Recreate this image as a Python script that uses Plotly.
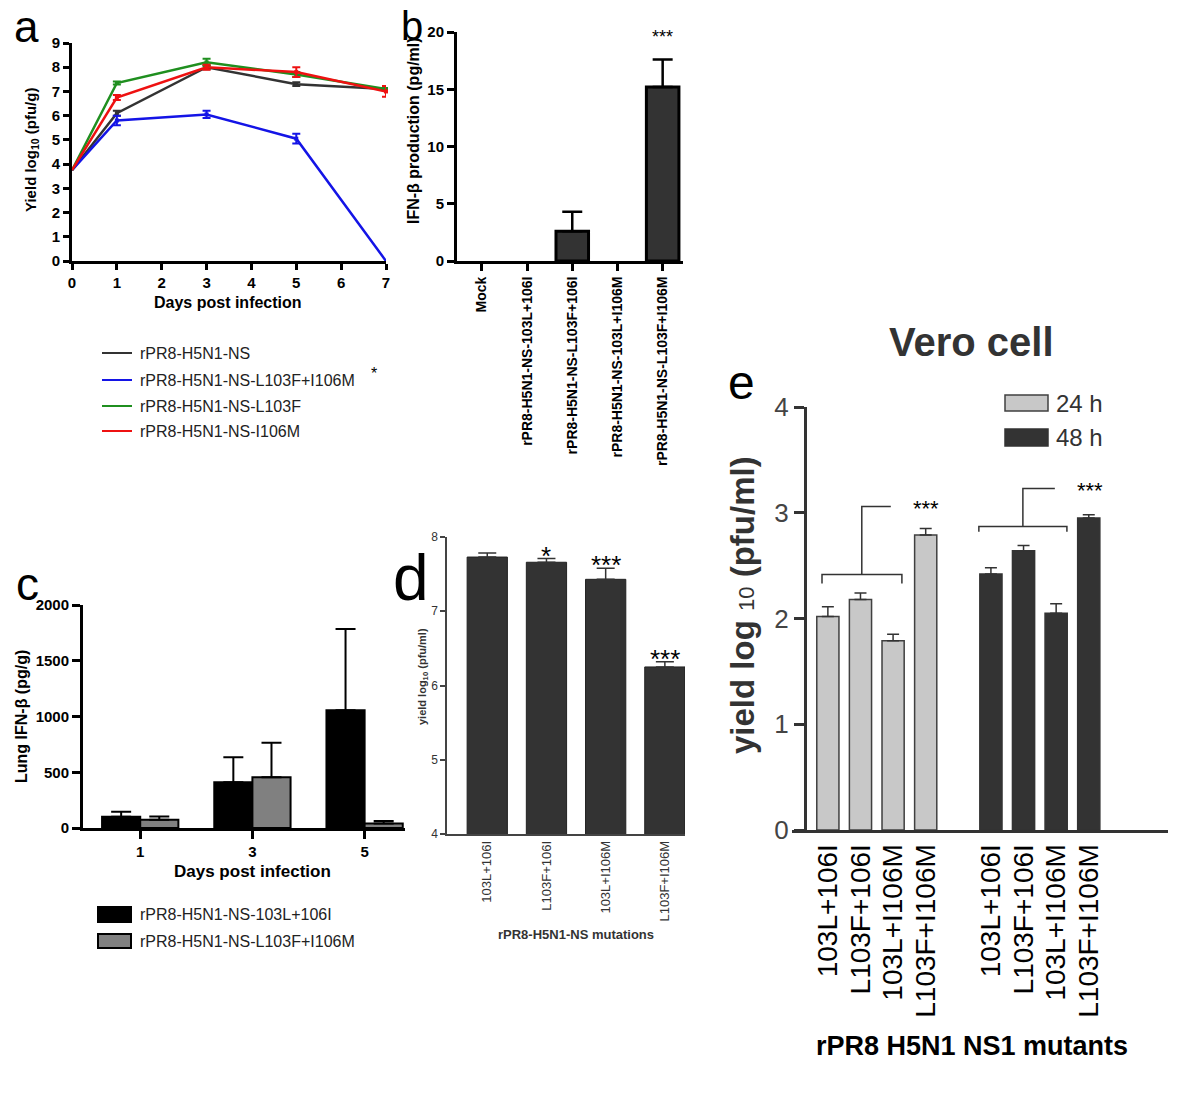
import plotly.graph_objects as go

W, H = 1200, 1100
def PX(p):
    return p / W
def PY(p):
    return 1 - p / H

FONT = "Liberation Sans, Arial, sans-serif"

# ---------------- Panel a data ----------------
a_days = [0, 1, 3, 5, 7]
a_names = ["rPR8-H5N1-NS", "rPR8-H5N1-NS-L103F+I106M", "rPR8-H5N1-NS-L103F", "rPR8-H5N1-NS-I106M"]
a_ns = [3.75, 6.1, 8.0, 7.3, 7.1]
a_ns_err = [0, 0.1, 0.08, 0.08, 0.08]
a_l103f_i106m = [3.75, 5.8, 6.05, 5.05, 0.0]
a_l103f_i106m_err = [0, 0.2, 0.15, 0.2, 0]
a_l103f = [3.75, 7.35, 8.2, 7.7, 7.1]
a_l103f_err = [0, 0.06, 0.15, 0.1, 0.08]
a_i106m = [3.75, 6.75, 8.0, 7.8, 7.0]
a_i106m_err = [0, 0.1, 0.1, 0.2, 0.22]
a_colors = ["#333333", "#1414e6", "#1f8f1f", "#ee1111"]

# ---------------- Panel b data ----------------
b_cats = ["Mock", "rPR8-H5N1-NS-103L+106I", "rPR8-H5N1-NS-L103F+106I",
          "rPR8-H5N1-NS-103L+I106M", "rPR8-H5N1-NS-L103F+I106M"]
b_vals = [0, 0, 2.6, 0, 15.2]
b_err = [0, 0, 1.7, 0, 2.4]

# ---------------- Panel c data ----------------
c_days = ["1", "3", "5"]
c_names = ["rPR8-H5N1-NS-103L+106I", "rPR8-H5N1-NS-L103F+I106M"]
c_103l_106i = [100, 410, 1055]
c_103l_106i_err = [45, 225, 730]
c_l103f_i106m = [75, 455, 40]
c_l103f_i106m_err = [28, 310, 23]

# ---------------- Panel d data ----------------
d_cats = ["103L+106I", "L103F+106I", "103L+I106M", "L103F+I106M"]
d_vals = [7.73, 7.66, 7.43, 6.25]
d_err = [0.055, 0.05, 0.15, 0.07]
d_stars = ["", "*", "***", "***"]

# ---------------- Panel e data ----------------
e_cats = ["103L+106I", "L103F+106I", "103L+I106M", "L103F+I106M"]
e_24h = [2.02, 2.18, 1.79, 2.79]
e_24h_err = [0.09, 0.06, 0.06, 0.06]
e_48h = [2.42, 2.64, 2.05, 2.95]
e_48h_err = [0.06, 0.05, 0.09, 0.03]

fig = go.Figure()

# ---- panel a traces ----
a_series = [(a_ns, a_ns_err), (a_l103f_i106m, a_l103f_i106m_err), (a_l103f, a_l103f_err), (a_i106m, a_i106m_err)]
for (vals, errs), name, col in zip(a_series, a_names, a_colors):
    fig.add_trace(go.Scatter(x=a_days, y=vals, mode="lines", name=name,
                             line=dict(color=col, width=2.5), cliponaxis=False,
                             showlegend=False, xaxis="x", yaxis="y"))
    idx = [i for i, e in enumerate(errs) if e > 0]
    fig.add_trace(go.Scatter(x=[a_days[i] for i in idx], y=[vals[i] for i in idx], mode="markers",
                             marker=dict(color=col, size=4, symbol="square"),
                             error_y=dict(type="data", array=[errs[i] for i in idx], color=col,
                                          thickness=2, width=4),
                             cliponaxis=False, showlegend=False, xaxis="x", yaxis="y"))

# ---- panel b ----
fig.add_trace(go.Bar(x=b_cats, y=[v if v > 0 else None for v in b_vals], width=0.72,
                     marker=dict(color="#333333", line=dict(color="#000000", width=3)),
                     error_y=dict(type="data", symmetric=False, array=b_err,
                                  arrayminus=[0] * len(b_err), color="#000000", thickness=2.5, width=10),
                     showlegend=False, xaxis="x2", yaxis="y2"))

# ---- panel c ----
fig.add_trace(go.Bar(x=c_days, y=c_103l_106i, width=0.34, offset=-0.34, name=c_names[0],
                     marker=dict(color="#000000", line=dict(color="#000000", width=2)),
                     error_y=dict(type="data", symmetric=False, array=c_103l_106i_err,
                                  arrayminus=[0] * 3, color="#000000", thickness=2, width=10),
                     showlegend=False, xaxis="x3", yaxis="y3"))
fig.add_trace(go.Bar(x=c_days, y=c_l103f_i106m, width=0.34, offset=0, name=c_names[1],
                     marker=dict(color="#808080", line=dict(color="#000000", width=2)),
                     error_y=dict(type="data", symmetric=False, array=c_l103f_i106m_err,
                                  arrayminus=[0] * 3, color="#000000", thickness=2, width=10),
                     showlegend=False, xaxis="x3", yaxis="y3"))

# ---- panel d ----
fig.add_trace(go.Bar(x=d_cats, y=d_vals, width=0.68,
                     marker=dict(color="#333333", line=dict(color="#222222", width=1)),
                     error_y=dict(type="data", symmetric=False, array=d_err,
                                  arrayminus=[0] * len(d_err), color="#333333", thickness=1.5, width=9),
                     showlegend=False, xaxis="x4", yaxis="y4"))

# ---- panel e ----
n_e = len(e_cats)
e_pos_24 = list(range(n_e))
e_pos_48 = [i + n_e + 1 for i in range(n_e)]
fig.add_trace(go.Bar(x=e_pos_24, y=e_24h, width=0.68, name="24 h",
                     marker=dict(color="#c8c8c8", line=dict(color="#404040", width=1.5)),
                     error_y=dict(type="data", symmetric=False, array=e_24h_err,
                                  arrayminus=[0] * n_e, color="#333333", thickness=1.5, width=6),
                     showlegend=False, xaxis="x5", yaxis="y5"))
fig.add_trace(go.Bar(x=e_pos_48, y=e_48h, width=0.68, name="48 h",
                     marker=dict(color="#333333", line=dict(color="#333333", width=1.5)),
                     error_y=dict(type="data", symmetric=False, array=e_48h_err,
                                  arrayminus=[0] * n_e, color="#333333", thickness=1.5, width=6),
                     showlegend=False, xaxis="x5", yaxis="y5"))

bold = dict(family=FONT, weight="bold", color="#000000")

def ax(**kw):
    base = dict(showgrid=False, zeroline=False, showline=True, fixedrange=True, automargin=False)
    base.update(kw)
    return base

fig.update_layout(
    width=W, height=H, margin=dict(l=0, r=0, t=0, b=0, pad=0, autoexpand=False),
    paper_bgcolor="white", plot_bgcolor="rgba(0,0,0,0)", showlegend=False,
    barmode="overlay", font=dict(family=FONT, color="#000000"),
    # a
    xaxis=ax(domain=[PX(72), PX(386)], range=[0, 7], dtick=1, anchor="y",
             linecolor="#000", linewidth=3, ticks="outside", ticklen=6, tickwidth=2.5,
             tickcolor="#000", tickfont=dict(bold, size=15)),
    yaxis=ax(domain=[PY(261), PY(43)], range=[0, 9], dtick=1, anchor="x",
             linecolor="#000", linewidth=3, ticks="outside", ticklen=6, tickwidth=2.5,
             tickcolor="#000", tickfont=dict(bold, size=15)),
    # b
    xaxis2=ax(domain=[PX(457), PX(683)], type="category", range=[-0.55, 4.45], anchor="y2",
              linecolor="#000", linewidth=3, ticks="outside", ticklen=7, tickwidth=3,
              tickcolor="#000", tickangle=-90, tickfont=dict(bold, size=14)),
    yaxis2=ax(domain=[PY(261), PY(32)], range=[0, 20], tickvals=[0, 5, 10, 15, 20], anchor="x2",
              linecolor="#000", linewidth=3, ticks="outside", ticklen=7, tickwidth=3,
              tickcolor="#000", tickfont=dict(bold, size=15)),
    # c
    xaxis3=ax(domain=[PX(83), PX(405)], type="category", range=[-0.51, 2.36], anchor="y3",
              linecolor="#000", linewidth=3, ticks="outside", ticklen=8, tickwidth=3,
              tickcolor="#000", tickfont=dict(bold, size=15)),
    yaxis3=ax(domain=[PY(828), PY(605)], range=[0, 2000], dtick=500, anchor="x3",
              linecolor="#000", linewidth=3, ticks="outside", ticklen=8, tickwidth=3,
              tickcolor="#000", tickfont=dict(bold, size=15)),
    # d
    xaxis4=ax(domain=[PX(447), PX(685)], type="category", range=[-0.68, 3.34], anchor="y4",
              linecolor="#444", linewidth=1.5, ticks="", tickangle=-90,
              tickfont=dict(family=FONT, size=13, color="#333")),
    yaxis4=ax(domain=[PY(834), PY(537)], range=[4, 8], dtick=1, anchor="x4",
              linecolor="#444", linewidth=1.5, ticks="outside", ticklen=5, tickwidth=1.5,
              tickcolor="#444", tickfont=dict(family=FONT, size=12, color="#333")),
    # e
    xaxis5=ax(domain=[PX(792), PX(1168)], range=[-1.1, 10.43], anchor="y5",
              tickvals=e_pos_24 + e_pos_48, ticktext=e_cats + e_cats,
              linecolor="#333", linewidth=3, ticks="", tickangle=-90,
              tickfont=dict(family=FONT, size=28, color="#000")),
    yaxis5=ax(domain=[PY(830), PY(407)], range=[0, 4], dtick=1, anchor="free", position=PX(805),
              linecolor="#333", linewidth=3, ticks="outside", ticklen=10, tickwidth=3,
              tickcolor="#333", tickfont=dict(family=FONT, size=26, color="#444")),
)

ann = []
def A(text, x, y, size, xref="paper", yref="paper", angle=0, xanchor="center", yanchor="middle",
      weight="normal", color="#000000"):
    ann.append(dict(text=text, x=x, y=y, xref=xref, yref=yref, textangle=angle, showarrow=False,
                    xanchor=xanchor, yanchor=yanchor,
                    font=dict(family=FONT, size=size, weight=weight, color=color)))

# panel labels
A("a", PX(26), PY(27), 44)
A("b", PX(412), PY(26), 40)
A("c", PX(27), PY(584), 46)
A("d", PX(411), PY(578), 64)
A("e", PX(741), PY(382), 48)

# axis titles
A("Yield log<sub>10</sub> (pfu/g)", PX(31), PY(150), 15, angle=-90, weight="bold")
A("Days post infection", PX(228), PY(302), 16, weight="bold")
A("IFN-β production (pg/ml)", PX(414), PY(130), 16, angle=-90, weight="bold")
A("Lung IFN-β (pg/g)", PX(21), PY(717), 16, angle=-90, weight="bold")
A("Days post infection", PX(252), PY(871), 17, weight="bold")
A("yield log<sub>10</sub> (pfu/ml)", PX(423), PY(677), 11, angle=-90, weight="bold", color="#333")
A("rPR8-H5N1-NS mutations", PX(576), PY(934), 13, weight="bold", color="#333")
A("<b>yield log </b><span style='font-size:22px'>10</span><b> (pfu/ml)</b>", PX(742), PY(605), 33,
  angle=-90, color="#333")
A("rPR8 H5N1 NS1 mutants", PX(972), PY(1046), 27, weight="bold")
A("Vero cell", PX(971), PY(342), 40, weight="bold", color="#333")

# significance stars
A("***", b_cats[4], PY(37), 18, xref="x2", yref="paper")
for cat, v, e, s in zip(d_cats, d_vals, d_err, d_stars):
    if s:
        A(s, cat, v + e + 0.04, 26, xref="x4", yref="y4")
A("***", 3.0, 3.04, 22, xref="x5", yref="y5")
A("***", 8.04, 3.21, 22, xref="x5", yref="y5")

shapes = []
# legend a
a_rows = [353, 380, 406, 431]
for name, col, r in zip(a_names, a_colors, a_rows):
    shapes.append(dict(type="line", xref="paper", yref="paper", x0=PX(102), x1=PX(132),
                       y0=PY(r), y1=PY(r), line=dict(color=col, width=2)))
    A(name, PX(138), PY(r), 16, xanchor="left", color="#222")
A("*", PX(374), PY(373), 16)

# legend c
c_rows = [(907, 922, "#000000"), (934, 948, "#808080")]
for (t, b, col), name in zip(c_rows, c_names):
    shapes.append(dict(type="rect", xref="paper", yref="paper", x0=PX(98), x1=PX(131),
                       y0=PY(b), y1=PY(t), fillcolor=col, line=dict(color="#000", width=2)))
    A(name, PX(138), PY((t + b) / 2), 16, xanchor="left", color="#222")

# legend e
e_rows = [(395, 411, "#c8c8c8", "#404040", "24 h"), (429, 446, "#333333", "#333333", "48 h")]
for t, b, col, lc, name in e_rows:
    shapes.append(dict(type="rect", xref="paper", yref="paper", x0=PX(1005), x1=PX(1048),
                       y0=PY(b), y1=PY(t), fillcolor=col, line=dict(color=lc, width=1.5)))
    A(name, PX(1054), PY((t + b) / 2), 24, xanchor="left", color="#333")

# brackets e
shapes.append(dict(type="path", xref="x5", yref="y5",
                   path="M -0.18,2.33 V 2.415 H 2.27 V 2.33 M 1.04,2.415 V 3.06 H 1.93",
                   line=dict(color="#333", width=1.5)))
shapes.append(dict(type="path", xref="x5", yref="y5",
                   path="M 4.63,2.82 V 2.87 H 7.33 V 2.82 M 5.98,2.87 V 3.23 H 6.96",
                   line=dict(color="#333", width=1.5)))

fig.update_layout(annotations=ann, shapes=shapes)
fig.write_html("out.html", config=dict(displayModeBar=False),
               post_script="document.body.style.margin='0';"
                           "document.documentElement.style.overflow='hidden';")
